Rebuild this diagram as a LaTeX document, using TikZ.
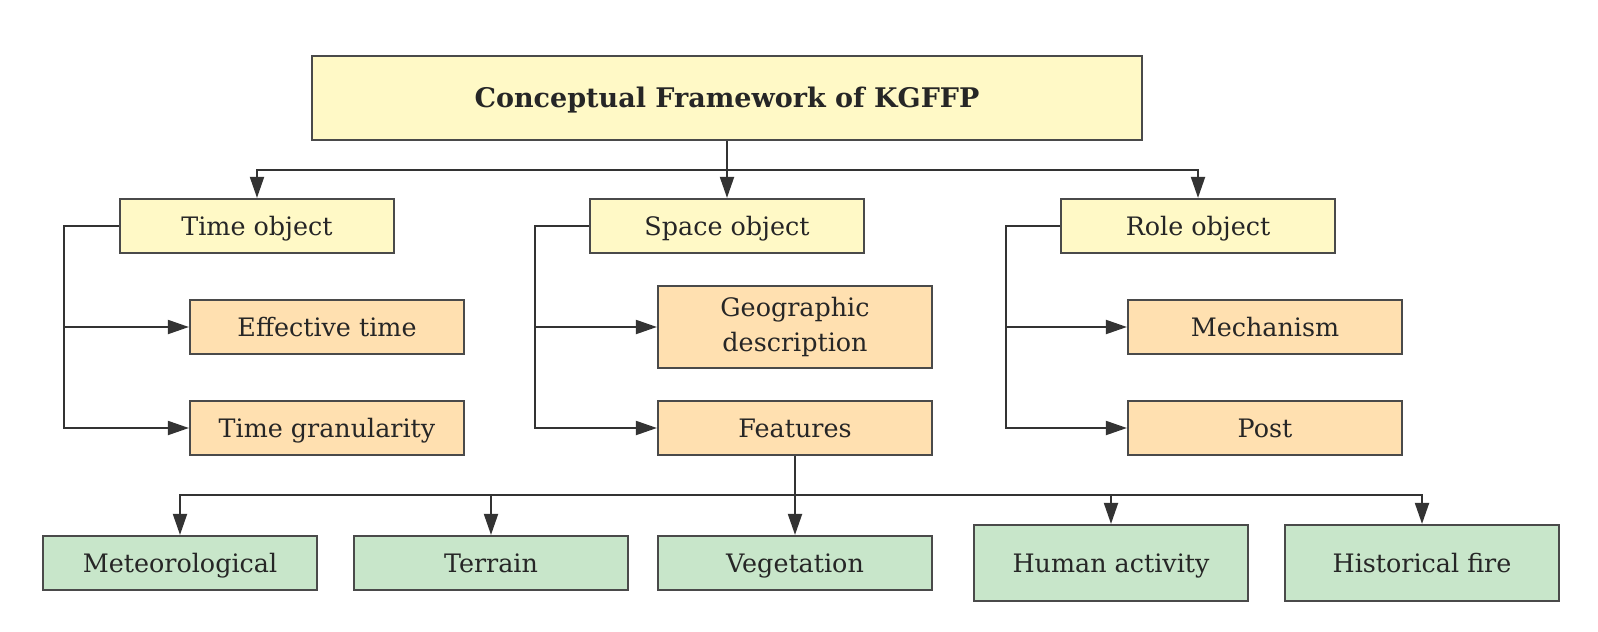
\documentclass[tikz,border=0pt]{standalone}
\usepackage{fontspec}
\setmainfont{DejaVu Serif}
\usetikzlibrary{arrows.meta}
\definecolor{yel}{HTML}{FFF9C6}
\definecolor{org}{HTML}{FFE0B0}
\definecolor{grn}{HTML}{C8E6CA}
\definecolor{bline}{HTML}{4A4A4A}
\definecolor{cline}{HTML}{333333}
\tikzset{
  basebox/.style={draw=bline, line width=1.1pt, inner sep=0pt, align=center,
    minimum width=137pt, minimum height=27pt,
    font=\fontsize{12.7}{17.5}\selectfont, text=black!85},
  box/.style={basebox, text height=9.3pt, text depth=0pt},
  ybox/.style={box, fill=yel},
  obox/.style={box, fill=org},
  gbox/.style={box, fill=grn},
  conn/.style={draw=cline, line width=1pt},
  arr/.style={conn, -{Triangle[length=10.5pt,width=7pt]}},
}
\begin{document}
\begin{tikzpicture}[x=0.5pt,y=-0.5pt]
\useasboundingbox (0,0) rectangle (1598,631);
% title
\node[ybox, minimum width=415pt, minimum height=42pt, text height=9.8pt,
  font=\fontsize{13.5}{16}\selectfont\bfseries] (title) at (727,98) {Conceptual Framework of KGFFP};
% level 2
\node[ybox] (time)  at (257,226)  {Time object};
\node[ybox] (space) at (727,226)  {Space object};
\node[ybox] (role)  at (1198,226) {Role object};
% level 3
\node[obox] (eff)  at (327,327)  {Effective time};
\node[obox] (gran) at (327,428)  {Time granularity};
\node[basebox, fill=org, minimum height=41pt] (geo) at (795,327) {Geographic\\description};
\node[obox] (feat) at (795,428)  {Features};
\node[obox] (mech) at (1265,327) {Mechanism};
\node[obox] (post) at (1265,428) {Post};
% level 4
\node[gbox] (met)  at (180,563)  {Meteorological};
\node[gbox] (ter)  at (491,563)  {Terrain};
\node[gbox] (veg)  at (795,563)  {Vegetation};
\node[gbox, minimum height=38pt] (hum)  at (1111,563) {Human activity};
\node[gbox, minimum height=38pt] (hist) at (1422,563) {Historical fire};
% coordinates
\coordinate (j1) at (727,170);
\coordinate (j2) at (795,495);
\coordinate (tt) at (64,226);
\coordinate (st) at (535,226);
\coordinate (rt) at (1006,226);
% top connectors
\draw[arr] (title.south) -- (space.north);
\draw[arr] (j1) -| (time.north);
\draw[arr] (j1) -| (role.north);
% time
\draw[arr] (time.west) -- (tt) |- (gran.west);
\draw[arr] (tt |- eff.west) -- (eff.west);
% space
\draw[arr] (space.west) -- (st) |- (feat.west);
\draw[arr] (st |- geo.west) -- (geo.west);
% role
\draw[arr] (role.west) -- (rt) |- (post.west);
\draw[arr] (rt |- mech.west) -- (mech.west);
% features
\draw[arr] (feat.south) -- (veg.north);
\draw[arr] (j2) -| (met.north);
\draw[arr] (j2) -| (ter.north);
\draw[arr] (j2) -| (hum.north);
\draw[arr] (j2) -| (hist.north);
\end{tikzpicture}
\end{document}
